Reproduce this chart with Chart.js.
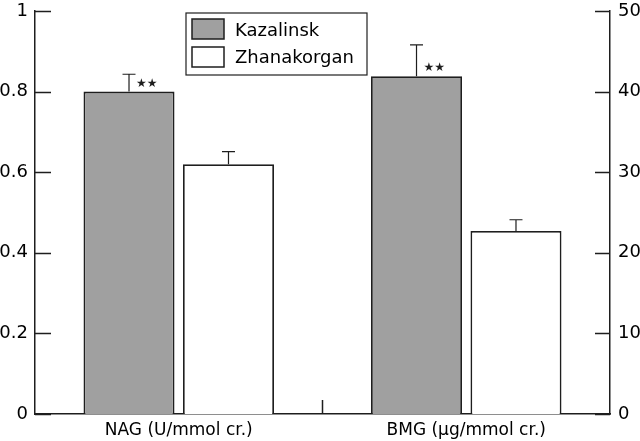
<!DOCTYPE html>
<html>
<head>
<meta charset="utf-8">
<script src="https://cdn.jsdelivr.net/npm/chart.js@4/dist/chart.umd.min.js"></script>
<style>
  body { margin: 0; background: #fff; }
  #wrap { width: 640px; height: 441px; }
</style>
</head>
<body>
<div id="wrap"><canvas id="kidneyChart" width="640" height="441"></canvas></div>
<script>
// values
const categories = ['NAG (U/mmol cr.)', 'BMG (μg/mmol cr.)'];
const axisFor = ['y', 'y1'];            // NAG on the left axis, BMG on the right
const sites = ['Kazalinsk', 'Zhanakorgan'];
const kazalinskMeans = [0.80, 41.9];
const kazalinskErrors = [0.043, 3.9];
const zhanakorganMeans = [0.62, 22.7];
const zhanakorganErrors = [0.031, 1.4];
const kazalinskMarks = ['★★', '★★'];
const leftTicks = { min: 0, max: 1, step: 0.2 };
const rightTicks = { min: 0, max: 50, step: 10 };

const siteFill = ['#a0a0a0', '#ffffff'];
const ink = '#1e1e1e';
const fontFamily = '"DejaVu Sans", sans-serif';

const siteMeans = [kazalinskMeans, zhanakorganMeans];
const siteErrors = [kazalinskErrors, zhanakorganErrors];

// one dataset per site and per axis; nulls are skipped so each group has two bars
const datasets = [];
sites.forEach((site, s) => {
  categories.forEach((cat, c) => {
    datasets.push({
      label: site,
      site: s,
      cat: c,
      yAxisID: axisFor[c],
      data: categories.map((_, j) => (j === c ? siteMeans[s][c] : null)),
      backgroundColor: siteFill[s],
      borderColor: ink,
      borderWidth: 1.8,
      borderSkipped: 'bottom',
      categoryPercentage: 0.692,
      barPercentage: 0.915
    });
  });
});

const decorations = {
  id: 'decorations',
  afterDatasetsDraw(chart) {
    const ctx = chart.ctx;
    const area = chart.chartArea;
    ctx.save();
    ctx.strokeStyle = ink;
    ctx.fillStyle = ink;
    ctx.lineWidth = 1.2;

    // error bars (upper side only) and significance stars
    chart.data.datasets.forEach((ds, i) => {
      const meta = chart.getDatasetMeta(i);
      const scale = chart.scales[ds.yAxisID];
      const bar = meta.data[ds.cat];
      if (!bar) return;
      const mean = siteMeans[ds.site][ds.cat];
      const top = scale.getPixelForValue(mean + siteErrors[ds.site][ds.cat]);
      ctx.beginPath();
      ctx.moveTo(bar.x, bar.y);
      ctx.lineTo(bar.x, top);
      ctx.moveTo(bar.x - 6.5, top);
      ctx.lineTo(bar.x + 6.5, top);
      ctx.stroke();
      if (ds.site === 0 && kazalinskMarks[ds.cat]) {
        ctx.font = '12px ' + fontFamily;
        ctx.textAlign = 'left';
        ctx.textBaseline = 'middle';
        ctx.fillText(kazalinskMarks[ds.cat], bar.x + 7, bar.y - 8);
      }
    });

    // inward tick marks
    ctx.lineWidth = 1.5;
    const yl = chart.scales.y, yr = chart.scales.y1, xs = chart.scales.x;
    ctx.beginPath();
    yl.ticks.forEach(t => {
      const py = Math.round(yl.getPixelForValue(t.value)) + 0.5;
      ctx.moveTo(area.left, py);
      ctx.lineTo(area.left + 16, py);
    });
    yr.ticks.forEach(t => {
      const py = Math.round(yr.getPixelForValue(t.value)) + 0.5;
      ctx.moveTo(area.right - 15, py);
      ctx.lineTo(area.right, py);
    });
    const mid = (xs.getPixelForValue(0) + xs.getPixelForValue(1)) / 2;
    ctx.moveTo(mid, area.bottom);
    ctx.lineTo(mid, area.bottom - 14);
    ctx.stroke();

    // legend box
    const lx = 186, ly = 13, lw = 181, lh = 62;
    ctx.fillStyle = '#fff';
    ctx.fillRect(lx, ly, lw, lh);
    ctx.lineWidth = 1.2;
    ctx.strokeRect(lx, ly, lw, lh);
    sites.forEach((site, s) => {
      const sy = 19 + s * 28;
      ctx.fillStyle = siteFill[s];
      ctx.fillRect(192, sy, 32, 20);
      ctx.lineWidth = 1.5;
      ctx.strokeRect(192, sy, 32, 20);
      ctx.fillStyle = '#000';
      ctx.font = '18px ' + fontFamily;
      ctx.textAlign = 'left';
      ctx.textBaseline = 'alphabetic';
      ctx.fillText(site, 235, 36 + s * 27);
    });
    ctx.restore();
  }
};

const plainNumber = v => String(Number(v.toFixed(2)));
const fitY = width => scale => {
  scale.width = width;
  scale.paddingTop = 11;
  scale.paddingBottom = 0;
};

new Chart(document.getElementById('kidneyChart').getContext('2d'), {
  type: 'bar',
  data: { labels: categories, datasets: datasets },
  plugins: [decorations],
  options: {
    responsive: false,
    animation: false,
    skipNull: true,
    layout: { padding: 0 },
    plugins: {
      legend: { display: false },
      tooltip: { enabled: false }
    },
    scales: {
      x: {
        grid: { display: false, drawTicks: false },
        border: { display: true, color: ink, width: 1.5 },
        ticks: { color: '#000', padding: 6, font: { family: fontFamily, size: 17 } },
        afterFit(scale) { scale.height = 27; scale.paddingLeft = 0; scale.paddingRight = 0; }
      },
      y: {
        position: 'left',
        min: leftTicks.min,
        max: leftTicks.max,
        grid: { display: false, drawTicks: false },
        border: { display: true, color: ink, width: 1.5 },
        ticks: { stepSize: leftTicks.step, color: '#000', padding: 7, callback: plainNumber, font: { family: fontFamily, size: 18 } },
        afterFit: fitY(35)
      },
      y1: {
        position: 'right',
        min: rightTicks.min,
        max: rightTicks.max,
        grid: { display: false, drawTicks: false },
        border: { display: true, color: ink, width: 1.5 },
        ticks: { stepSize: rightTicks.step, color: '#000', padding: 8, callback: plainNumber, font: { family: fontFamily, size: 18 } },
        afterFit: fitY(30)
      }
    }
  }
});
</script>
</body>
</html>
